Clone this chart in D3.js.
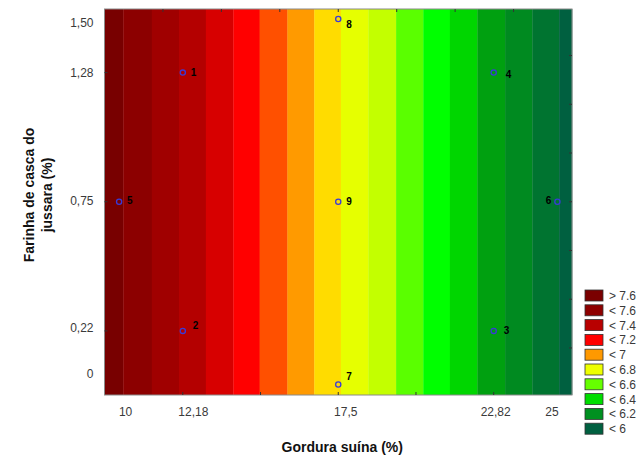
<!DOCTYPE html>
<html>
<head>
<meta charset="utf-8">
<script src="https://cdn.jsdelivr.net/npm/d3@7/dist/d3.min.js"></script>
<style>
  html, body { margin: 0; padding: 0; background: #ffffff; }
  svg { display: block; font-family: "Liberation Sans", Arial, sans-serif; }
</style>
</head>
<body>
<svg id="chart" width="639" height="455"></svg>
<script>
// ---- data ----
const xDomain = [9.5, 25.5];
const yDomain = [-0.043, 1.541];
// contour band edges along Gordura suína (%)
const bandEdges = [10.14, 11.12, 12.05, 12.97, 13.91, 14.81, 15.76, 16.68, 17.59, 18.53, 19.48, 20.41, 21.32, 22.26, 23.21, 24.14, 25.06];
const bandColors = ["#780000", "#8c0000", "#a00000", "#b40000", "#d70000", "#ff0000", "#ff5000", "#ff9a00", "#ffdc00", "#e6ff00", "#c3ff00", "#5aff00", "#00ff00", "#00d600", "#00a010", "#008a20", "#007430", "#006040"];
const xTickValues = [10, 12.18, 17.5, 22.82, 25];
const xTickLabels = ["10", "12,18", "17,5", "22,82", "25"];
const yTickValues = [0, 0.22, 0.75, 1.28, 1.5];
const yTickLabels = ["0", "0,22", "0,75", "1,28", "1,50"];
const bottomMarks = [12.18, 14.84, 17.5, 20.16, 22.82];
const topMarks = [11.5, 13.5, 15.5, 17.5, 19.5, 21.5, 23.5];
const leftMarks = [0.22, 0.75, 1.28];
const rightMarks = [0.15, 0.35, 0.55, 0.75, 0.95, 1.15, 1.35];
const pointIds = ["1", "2", "3", "4", "5", "6", "7", "8", "9"];
const pointX = [12.18, 12.18, 22.82, 22.82, 10, 25, 17.5, 17.5, 17.5];
const pointY = [1.28, 0.22, 0.22, 1.28, 0.75, 0.75, 0, 1.5, 0.75];
const legendLabels = ["> 7.6", "< 7.6", "< 7.4", "< 7.2", "< 7", "< 6.8", "< 6.6", "< 6.4", "< 6.2", "< 6"];
const legendColors = ["#7a0000", "#8e0000", "#b80000", "#ff0000", "#ff9900", "#eeff00", "#66ff00", "#00dd00", "#009020", "#006040"];
const xTitle = "Gordura suína (%)";
const yTitleLines = ["Farinha de casca do", "jussara (%)"];

// ---- layout ----
const plot = { left: 104.5, top: 9, right: 572, bottom: 395 };
const svg = d3.select("#chart");
const x = d3.scaleLinear().domain(xDomain).range([plot.left, plot.right]);
const y = d3.scaleLinear().domain(yDomain).range([plot.bottom, plot.top]);

// bands
const edges = [xDomain[0], ...bandEdges, xDomain[1]];
svg.append("g").selectAll("rect").data(bandColors).join("rect")
  .attr("x", (d, i) => x(edges[i]))
  .attr("y", plot.top)
  .attr("width", (d, i) => x(edges[i + 1]) - x(edges[i]) + 0.3)
  .attr("height", plot.bottom - plot.top)
  .attr("fill", d => d);

// border
svg.append("rect")
  .attr("x", plot.left).attr("y", plot.top)
  .attr("width", plot.right - plot.left).attr("height", plot.bottom - plot.top)
  .attr("fill", "none").attr("stroke", "#8a8a8a").attr("stroke-width", 1);

// inner tick marks
const tickColor = "#333";
const tk = svg.append("g").attr("stroke", tickColor).attr("stroke-width", 1);
tk.selectAll(".b").data(bottomMarks).join("line")
  .attr("x1", d => x(d)).attr("x2", d => x(d)).attr("y1", plot.bottom).attr("y2", plot.bottom - 3);
tk.selectAll(".t").data(topMarks).join("line").attr("class", "t")
  .attr("x1", d => x(d)).attr("x2", d => x(d)).attr("y1", plot.top).attr("y2", plot.top + 3);
tk.selectAll(".l").data(leftMarks).join("line").attr("class", "l")
  .attr("y1", d => y(d)).attr("y2", d => y(d)).attr("x1", plot.left).attr("x2", plot.left + 3);
tk.selectAll(".r").data(rightMarks).join("line").attr("class", "r")
  .attr("y1", d => y(d)).attr("y2", d => y(d)).attr("x1", plot.right).attr("x2", plot.right - 3);

// x axis labels
const xNudge = [6, 10, 7, 1.5, -6];
const xAxis = d3.axisBottom(x).tickValues(xTickValues).tickSize(0).tickPadding(0)
  .tickFormat((d, i) => xTickLabels[i]);
const gx = svg.append("g").attr("transform", `translate(0,${plot.bottom + 12})`).call(xAxis);
gx.select(".domain").remove();
gx.selectAll("text").attr("font-size", 12).attr("fill", "#3a3a3a")
  .attr("font-family", "Liberation Sans, Arial, sans-serif")
  .attr("dx", (d, i) => xNudge[i]);

// y axis labels
const yNudge = [-11, -3, -1, 0, 4];
const yAxis = d3.axisLeft(y).tickValues(yTickValues).tickSize(0).tickPadding(0)
  .tickFormat((d, i) => yTickLabels[i]);
const gy = svg.append("g").attr("transform", `translate(${plot.left - 11},0)`).call(yAxis);
gy.select(".domain").remove();
gy.selectAll("text").attr("font-size", 12).attr("fill", "#3a3a3a")
  .attr("font-family", "Liberation Sans, Arial, sans-serif")
  .attr("dy", (d, i) => (0.32 * 12 + yNudge[i]) + "px");

// axis titles
svg.append("text")
  .attr("x", (x(10) + x(25)) / 2 + 4).attr("y", 452)
  .attr("text-anchor", "middle").attr("font-size", 14).attr("font-weight", "bold").attr("fill", "#111")
  .text(xTitle);
const yt = svg.append("text")
  .attr("transform", "translate(34,195) rotate(-90)")
  .attr("text-anchor", "middle").attr("font-size", 14).attr("font-weight", "bold").attr("fill", "#111");
yt.selectAll("tspan").data(yTitleLines).join("tspan")
  .attr("x", 0).attr("dy", (d, i) => i === 0 ? 0 : 17.5)
  .text(d => d);

// points
const labelOffset = {
  "1": [8, 3], "2": [10, -2], "3": [10, 3], "4": [12, 5], "5": [8, 2],
  "6": [-6, 2], "7": [8, -5], "8": [8, 9], "9": [8, 3]
};
const pts = svg.append("g");
pts.selectAll("circle").data(pointIds).join("circle")
  .attr("cx", (d, i) => x(pointX[i])).attr("cy", (d, i) => y(pointY[i]))
  .attr("r", 2.6).attr("fill", "none").attr("stroke", "#3a3ad8").attr("stroke-width", 1.3);
pts.selectAll("text").data(pointIds).join("text")
  .attr("x", (d, i) => x(pointX[i]) + labelOffset[d][0])
  .attr("y", (d, i) => y(pointY[i]) + labelOffset[d][1])
  .attr("text-anchor", d => labelOffset[d][0] < 0 ? "end" : "start")
  .attr("font-size", 10).attr("font-weight", "bold").attr("fill", "#000")
  .text(d => d);

// legend
const lg = svg.append("g").attr("transform", "translate(585,290)");
const rowH = 14.8;
lg.selectAll("rect").data(legendColors).join("rect")
  .attr("x", 0).attr("y", (d, i) => i * rowH)
  .attr("width", 18).attr("height", 11)
  .attr("fill", d => d).attr("stroke", "#333").attr("stroke-width", 0.8);
lg.selectAll("text").data(legendLabels).join("text")
  .attr("x", 24).attr("y", (d, i) => i * rowH + 10)
  .attr("font-size", 12).attr("fill", "#3a3a3a")
  .text(d => d);
</script>
</body>
</html>
